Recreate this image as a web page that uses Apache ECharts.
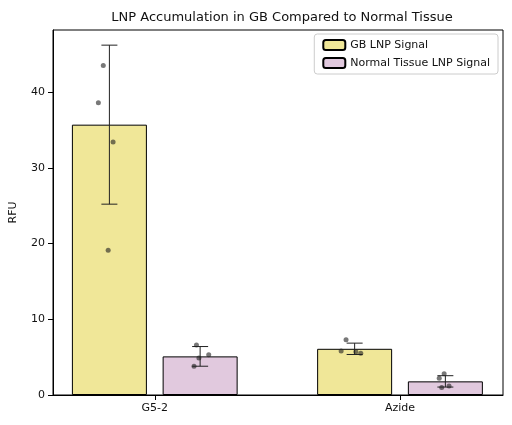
<!DOCTYPE html>
<html><head><meta charset="utf-8">
<script src="https://cdn.jsdelivr.net/npm/echarts@6/dist/echarts.min.js"></script>
<style>body{margin:0}#c{width:512px;height:425px}</style></head>
<body><div id="c"></div>
<script>
var categories = ['G5-2', 'Azide'];
var gbMean = [35.7, 6.1];
var gbErr = [10.5, 0.75];
var ntMean = [5.1, 1.8];
var ntErr = [1.3, 0.75];
var gbPoints = [[-0.21, 43.5], [-0.23, 38.6], [-0.17, 33.4], [-0.19, 19.1],
                [0.78, 7.3], [0.76, 5.8], [0.82, 5.7], [0.84, 5.5]];
var ntPoints = [[0.17, 6.6], [0.22, 5.3], [0.18, 4.9], [0.16, 3.8],
                [1.18, 2.8], [1.16, 2.2], [1.2, 1.2], [1.17, 1.0]];
var off = 0.185;

var chart = echarts.init(document.getElementById('c'));
function bars(mean, dx) { return mean.map(function (v, i) { return [i + dx, v]; }); }
function errs(mean, err, dx) { return mean.map(function (v, i) { return [i + dx, v - err[i], v + err[i]]; }); }
function errRender(params, api) {
  var x = api.value(0);
  var lo = api.coord([x, api.value(1)]), hi = api.coord([x, api.value(2)]);
  var w = 8, st = { stroke: '#222', lineWidth: 1 };
  return { type: 'group', children: [
    { type: 'line', shape: { x1: lo[0], y1: lo[1], x2: hi[0], y2: hi[1] }, style: st },
    { type: 'line', shape: { x1: lo[0] - w, y1: lo[1], x2: lo[0] + w, y2: lo[1] }, style: st },
    { type: 'line', shape: { x1: hi[0] - w, y1: hi[1], x2: hi[0] + w, y2: hi[1] }, style: st }
  ] };
}
chart.setOption({
  animation: false,
  textStyle: { fontFamily: 'DejaVu Sans' },
  title: { text: 'LNP Accumulation in GB Compared to Normal Tissue', left: 277, top: 6, textAlign: 'center',
    textStyle: { fontSize: 13, fontWeight: 'normal', color: '#111' } },
  legend: { right: 14, top: 34, orient: 'vertical', itemWidth: 22, itemHeight: 10, itemGap: 6,
    borderColor: '#ccc', borderWidth: 1, borderRadius: 3, padding: [5, 8],
    textStyle: { fontSize: 11, color: '#111' },
    data: ['GB LNP Signal', 'Normal Tissue LNP Signal'] },
  grid: { left: 52, right: 9, top: 30, bottom: 30, show: true, borderColor: '#000', borderWidth: 1 },
  xAxis: { type: 'value', min: -0.415, max: 1.42,
    axisLine: { onZero: false, lineStyle: { color: '#000' } },
    splitLine: { show: false },
    axisLabel: { color: '#111', fontSize: 11, customValues: [0, 1],
      formatter: function (v) { return categories[Math.round(v)] || ''; } },
    axisTick: { show: true, customValues: [0, 1], lineStyle: { color: '#000' } } },
  yAxis: { type: 'value', min: 0, max: 48.2, interval: 10, name: 'RFU', nameLocation: 'middle', nameGap: 34,
    nameTextStyle: { fontSize: 11, color: '#111' },
    axisLine: { show: true, onZero: false, lineStyle: { color: '#000' } }, axisTick: { show: true, lineStyle: { color: '#000' } },
    splitLine: { show: false }, axisLabel: { color: '#111', fontSize: 11, showMaxLabel: false } },
  series: [
    { name: 'GB LNP Signal', type: 'bar', data: bars(gbMean, -off), barWidth: 75, barGap: '-100%',
      itemStyle: { color: '#f0e798', borderColor: '#000', borderWidth: 1 } },
    { name: 'Normal Tissue LNP Signal', type: 'bar', data: bars(ntMean, off), barWidth: 75, barGap: '-100%',
      itemStyle: { color: '#e1c9de', borderColor: '#000', borderWidth: 1 } },
    { type: 'custom', renderItem: errRender, data: errs(gbMean, gbErr, -off), z: 5 },
    { type: 'custom', renderItem: errRender, data: errs(ntMean, ntErr, off), z: 5 },
    { type: 'scatter', data: gbPoints.concat(ntPoints), symbolSize: 5, z: 6,
      itemStyle: { color: 'rgba(30,30,30,0.75)' } }
  ]
});
</script></body></html>
